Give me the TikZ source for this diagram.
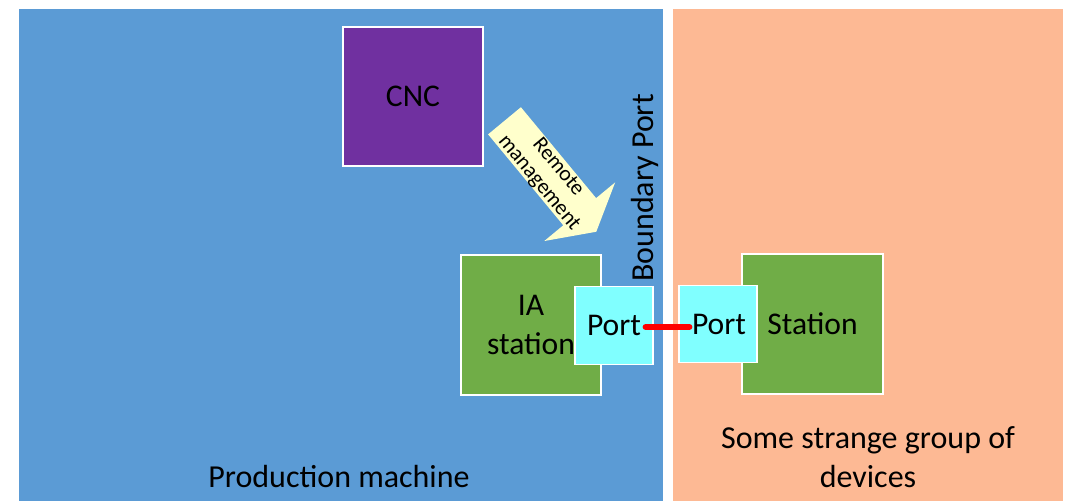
\documentclass[tikz,border=0pt]{standalone}
\usepackage{fontspec}
\setmainfont{Carlito}
\begin{document}
\begin{tikzpicture}[x=0.5pt,y=0.5pt,
  region/.style={draw=white,line width=0.6pt,anchor=south west,inner sep=0pt},
  box/.style={draw=white,line width=0.6pt,inner sep=0pt,align=center,
    font=\fontsize{15.8}{19.5}\selectfont,text=black},
  portbox/.style={box,fill=portcyan,minimum width=39pt,minimum height=38.75pt},
  bigtext/.style={font=\fontsize{16}{19.5}\selectfont,align=center,inner sep=0pt},
  link/.style={draw=red,line width=3pt,line cap=round}]
\definecolor{regblue}{HTML}{5B9BD5}
\definecolor{regorange}{HTML}{FDB994}
\definecolor{stgreen}{HTML}{70AD47}
\definecolor{cncpurple}{HTML}{7030A0}
\definecolor{portcyan}{HTML}{80FFFF}
\definecolor{arrowyellow}{HTML}{FFFFCC}
\useasboundingbox (0,0) rectangle (1071,501);
\fill[white] (0,0) rectangle (1071,501);
% regions
\node[region,fill=regblue,minimum width=322.5pt,minimum height=247pt] (prod) at (17.5,-2) {};
\node[region,fill=regorange,minimum width=195.5pt,minimum height=247pt] (group) at (672,-2) {};
% labels of regions
\node[bigtext] (prodlabel) at (339,24) {Production machine};
\node[bigtext] (grouplabel) at (868,44) {Some strange group of\\devices};
% CNC
\node[box,fill=cncpurple,minimum width=70pt,minimum height=69.5pt] (cnc) at (413,404.5) {CNC};
% stations
\node[box,fill=stgreen,minimum width=70pt,minimum height=70pt] (ia) at (531,176) {IA\\station};
\node[portbox] (portL) at (614,175.5) {Port};
\node[box,fill=stgreen,minimum width=70.5pt,minimum height=70pt] (st) at (812.5,177) {Station};
\node[portbox] (portR) at (718,177) {\hspace*{1pt}Port};
% boundary label
\node[bigtext,rotate=90] (bport) at (645,313) {Boundary Port};
% link
\draw[link] ([xshift=-4pt]portL.east |- 0,174) -- ([xshift=5.5pt]portR.west |- 0,174);
% remote management arrow
\begin{scope}[shift={(504.5,380.2)},rotate=-50.4]
  \fill[arrowyellow] (0,21.3) -- (118,21.3) -- (118,46) -- (144,0) -- (118,-46)
    -- (118,-21.3) -- (0,-21.3) -- cycle;
  \coordinate (rmc) at (70,-1);
\end{scope}
\node[rotate=-50.4,align=center,inner sep=0pt,
  font=\fontsize{10.8}{12.4}\selectfont] (rm) at (rmc) {Remote\\management};
\end{tikzpicture}
\end{document}
